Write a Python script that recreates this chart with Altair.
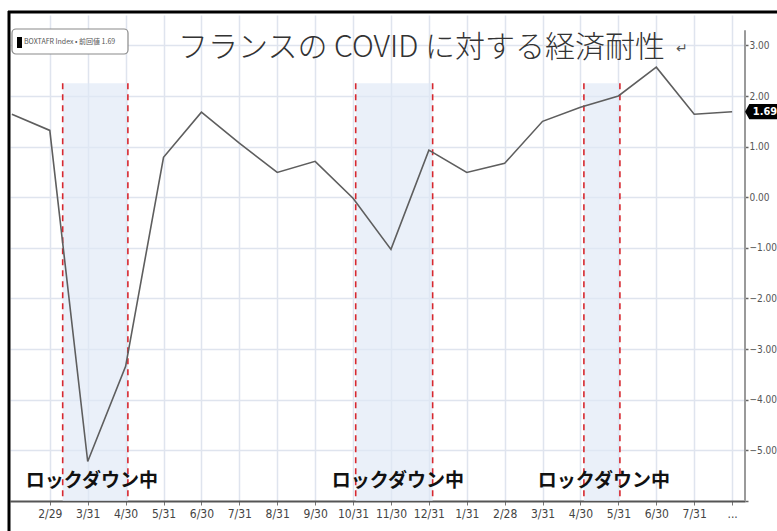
import altair as alt
import pandas as pd
import json

# ---- data ----
tick_labels = ["2/29", "3/31", "4/30", "5/31", "6/30", "7/31", "8/31", "9/30", "10/31",
               "11/30", "12/31", "1/31", "2/28", "3/31", "4/30", "5/31", "6/30", "7/31", "..."]
series_idx = [-1, 0, 1, 2, 3, 4, 5, 6, 7, 8, 9, 10, 11, 12, 13, 14, 15, 16, 17, 18]
series_val = [1.64, 1.32, -5.22, -3.34, 0.79, 1.68, 1.07, 0.49, 0.71, -0.02, -1.03,
              0.93, 0.49, 0.67, 1.50, 1.78, 2.00, 2.57, 1.64, 1.69]
lock_start = [0.34, 8.07, 14.09]
lock_end = [2.06, 10.10, 15.04]
lock_top = 2.25
lock_label_x = [1.11, 9.18, 14.62]
lock_label_y = -5.61
lock_label = "ロックダウン中"
title_text = "フランスの COVID に対する経済耐性"
legend_text = "BOXTAFR Index • 前回値 1.69"
last_value = 1.69

X_DOM = [-1.05, 18.34]
Y_DOM = [-6.0, 3.6]
W, H = 735, 486

xs = alt.Scale(domain=X_DOM, nice=False, zero=False)
ys = alt.Scale(domain=Y_DOM, nice=False, zero=False)

line_df = pd.DataFrame({"i": series_idx, "v": series_val})
lock_df = pd.DataFrame({"s": lock_start, "e": lock_end, "top": [lock_top] * 3, "bot": [Y_DOM[0]] * 3})
rule_df = pd.DataFrame({"x": lock_start + lock_end, "top": [lock_top] * 6, "bot": [Y_DOM[0]] * 6})
lab_df = pd.DataFrame({"x": lock_label_x, "y": [lock_label_y] * 3, "t": [lock_label] * 3})
last_df = pd.DataFrame({"v": [last_value], "t": [f"{last_value:.2f}"]})
title_df = pd.DataFrame({"t": [title_text]})
legend_df = pd.DataFrame({"t": [legend_text]})

label_expr = "datum.value >= 0 && datum.value <= 18 ? " + json.dumps(tick_labels).replace('"', "'") + "[datum.value] : ''"

axis_font = "DejaVu Sans Condensed, Liberation Sans Narrow, sans-serif"

x_axis = alt.Axis(values=list(range(0, 19)), labelExpr=label_expr, title=None,
                  grid=True, gridColor="#dfe4ee", gridWidth=1.5,
                  domainColor="#555555", domainWidth=2, tickColor="#777777", tickSize=4,
                  labelFont=axis_font, labelFontSize=12, labelColor="#444444",
                  labelPadding=3, labelFlush=False, labelOverlap=False)

y_vals = [v / 2 for v in range(-12, 7)]
y_axis = alt.Axis(orient="right", values=y_vals, title=None,
                  labelExpr="datum.value % 1 === 0 && datum.value > -6 ? format(datum.value, '.2f') : ''",
                  grid=True, gridColor="#dfe4ee", gridWidth=1.5,
                  gridOpacity={"condition": {"test": "datum.value % 1 === 0 && datum.value > -6", "value": 1}, "value": 0},
                  domain=False, tickColor="#666666", tickSize=3, tickWidth=1.5,
                  labelFont=axis_font, labelFontSize=10, labelColor="#555555",
                  labelPadding=1, labelOverlap=False, labelFlush=False)

bands = alt.Chart(lock_df).mark_rect(color="#dfe8f6", opacity=0.65).encode(
    x=alt.X("s:Q", scale=xs, axis=x_axis), x2="e:Q",
    y=alt.Y("top:Q", scale=ys, axis=y_axis), y2="bot:Q")

rules = alt.Chart(rule_df).mark_rule(color="#d7282f", strokeDash=[6, 5], strokeWidth=1.6).encode(
    x=alt.X("x:Q", scale=xs), y=alt.Y("top:Q", scale=ys), y2="bot:Q")

axis_rule = alt.Chart(title_df).mark_rule(color="#9a9a9a", strokeWidth=2).encode(
    x=alt.value(W), y=alt.datum(3.3, scale=ys), y2=alt.datum(Y_DOM[0]))

line = alt.Chart(line_df).mark_line(color="#5e5e5e", strokeWidth=1.6).encode(
    x=alt.X("i:Q", scale=xs), y=alt.Y("v:Q", scale=ys))

labels = alt.Chart(lab_df).mark_text(font="Noto Sans CJK JP", fontWeight="bold", fontSize=19,
                                     color="#111111", baseline="middle", align="center").encode(
    x=alt.X("x:Q", scale=xs), y=alt.Y("y:Q", scale=ys), text="t:N")

marker = alt.Chart(last_df).mark_point(
    shape="M-1,0 L-0.75,-0.45 L1,-0.45 L1,0.45 L-0.75,0.45 Z",
    filled=True, color="#000000", opacity=1, size=1150, strokeWidth=0).encode(
    x=alt.value(W + 17), y=alt.Y("v:Q", scale=ys))

marker_text = alt.Chart(last_df).mark_text(font=axis_font, fontWeight="bold", fontSize=11,
                                           color="#ffffff", align="center", baseline="middle").encode(
    x=alt.value(W + 20), y=alt.Y("v:Q", scale=ys), text="t:N")

title = alt.Chart(title_df).mark_text(font="Noto Sans CJK JP", fontWeight=300, fontSize=30,
                                      color="#333333", align="left", baseline="middle").encode(
    x=alt.value(168), y=alt.value(33), text="t:N")

title_mark = alt.Chart(pd.DataFrame({"t": ["↵"]})).mark_text(
    font="DejaVu Sans", fontSize=14, color="#555555", align="left", baseline="middle").encode(
    x=alt.value(666), y=alt.value(34), text="t:N")

legend_box = alt.Chart(legend_df).mark_rect(fill="#ffffff", stroke="#8a8a8a", strokeWidth=1.2,
                                            cornerRadius=4).encode(
    x=alt.value(2), x2=alt.value(118), y=alt.value(14), y2=alt.value(39))

legend_sq = alt.Chart(legend_df).mark_rect(fill="#000000").encode(
    x=alt.value(7), x2=alt.value(12), y=alt.value(22), y2=alt.value(33))

legend_txt = alt.Chart(legend_df).mark_text(font="Noto Sans CJK JP", fontSize=7, color="#555555",
                                            align="left", baseline="middle").encode(
    x=alt.value(14), y=alt.value(27), text="t:N")

border_left = alt.Chart(legend_df).mark_rule(color="#000000", strokeWidth=3).encode(
    x=alt.value(-1), y=alt.value(-4), y2=alt.value(520))
border_top = alt.Chart(legend_df).mark_rule(color="#000000", strokeWidth=3).encode(
    x=alt.value(-2), x2=alt.value(775), y=alt.value(-3))

chart = alt.layer(
    bands, rules, axis_rule, line, labels, marker, marker_text,
    title, title_mark, legend_box, legend_sq, legend_txt, border_left, border_top
).properties(
    width=W, height=H,
    autosize=alt.AutoSizeParams(type="none"),
    padding={"left": 10, "top": 15, "right": 32, "bottom": 30},
    background="#ffffff"
).configure_view(stroke=None)

chart.save("out.html", embed_options={"renderer": "svg", "actions": False})
